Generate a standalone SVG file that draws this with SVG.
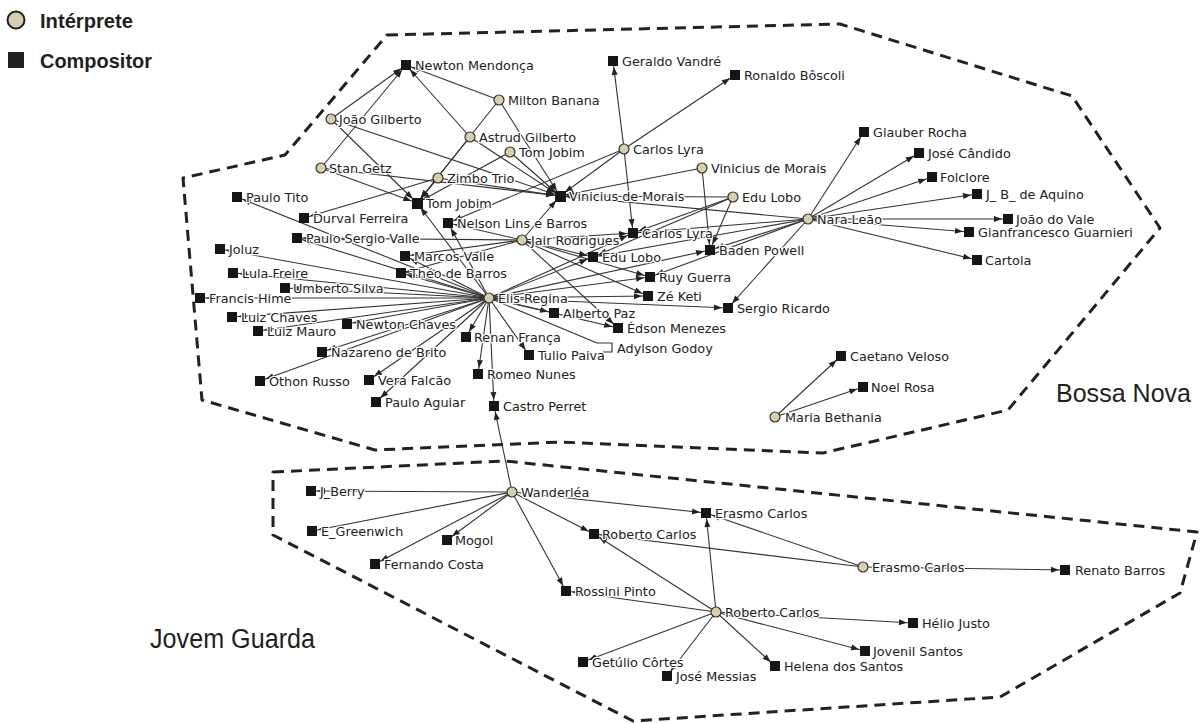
<svg xmlns="http://www.w3.org/2000/svg" width="1200" height="723" viewBox="0 0 1200 723">
  <defs>
    <style>
      .bg { fill: #ffffff; }
      .region { fill: none; stroke: #222; stroke-width: 3; stroke-dasharray: 11 7; stroke-linejoin: round; }
      .big { font-family: "Liberation Sans Narrow", "Liberation Sans", sans-serif; fill: #231f20; }
      .key { font-weight: bold; }
      #edges line { stroke: #333; stroke-width: 1.1; }
      #edges line.a { marker-end: url(#arr); }
      .ip circle { fill: #d6cfa9; stroke: #333; stroke-width: 1.2; }
      .cp rect { fill: #161616; }
      .l { font-family: "DejaVu Sans", sans-serif; font-size: 12.8px; fill: #222;
           paint-order: stroke; stroke: #fff; stroke-width: 2.5px; stroke-linejoin: round; }
    </style>
    <marker id="arr" markerUnits="userSpaceOnUse" markerWidth="10" markerHeight="8" viewBox="0 0 10 8"
            refX="14" refY="3" orient="auto" overflow="visible">
      <path d="M0,0 L8,3 L0,6 z" fill="#222"/>
    </marker>
  </defs>

  <rect class="bg" x="0" y="0" width="1200" height="723"/>

  <!-- legend -->
  <g id="legend">
    <circle cx="16" cy="20" r="8.5" fill="#d6cfa9" stroke="#231f20" stroke-width="2"/>
    <text class="big key" x="40" y="28" font-size="20" textLength="93" lengthAdjust="spacingAndGlyphs">Intérprete</text>
    <rect x="8" y="52" width="16" height="16" fill="#231f20"/>
    <text class="big key" x="40" y="68" font-size="20" textLength="112" lengthAdjust="spacingAndGlyphs">Compositor</text>
  </g>

  <!-- movement regions -->
  <g id="regions">
    <path class="region" d="M387,35 L840,24 L1072,96 L1160,228 L1008,410 L823,453 L560,442 L375,450 L202,400 L183,178 L285,155 Z"/>
    <text class="big" x="1056" y="402" font-size="26" textLength="135" lengthAdjust="spacingAndGlyphs">Bossa Nova</text>
    <path class="region" d="M273,472 L505,461 L1197,532 L1180,593 L1000,697 L633,721 L273,535 Z"/>
    <text class="big" x="150" y="648" font-size="27" textLength="165" lengthAdjust="spacingAndGlyphs">Jovem Guarda</text>
  </g>

  <!-- connectors: performer -> composer -->
  <g id="edges">
    <!-- João Gilberto -->
    <line class="a" x1="331" y1="119" x2="406" y2="65"/>
    <line class="a" x1="331" y1="119" x2="417" y2="203"/>
    <line class="a" x1="331" y1="119" x2="560" y2="196"/>
    <!-- Stan Getz -->
    <line class="a" x1="321" y1="168" x2="406" y2="65"/>
    <line class="a" x1="321" y1="168" x2="417" y2="203"/>
    <line class="a" x1="321" y1="168" x2="560" y2="196"/>
    <!-- Milton Banana -->
    <line class="a" x1="499" y1="100" x2="406" y2="65"/>
    <line class="a" x1="499" y1="100" x2="417" y2="203"/>
    <line class="a" x1="499" y1="100" x2="560" y2="196"/>
    <!-- Astrud Gilberto -->
    <line class="a" x1="470" y1="137" x2="406" y2="65"/>
    <line class="a" x1="470" y1="137" x2="417" y2="203"/>
    <line class="a" x1="470" y1="137" x2="560" y2="196"/>
    <!-- Tom Jobim -->
    <line class="a" x1="510" y1="152" x2="560" y2="196"/>
    <line class="a" x1="510" y1="152" x2="417" y2="203"/>
    <!-- Zimbo Trio -->
    <line class="a" x1="438" y1="178" x2="417" y2="203"/>
    <line class="a" x1="438" y1="178" x2="560" y2="196"/>
    <line class="a" x1="438" y1="178" x2="304" y2="218"/>
    <!-- Carlos Lyra -->
    <line class="a" x1="624" y1="149" x2="613" y2="61"/>
    <line class="a" x1="624" y1="149" x2="735" y2="75"/>
    <line class="a" x1="624" y1="149" x2="560" y2="196"/>
    <line class="a" x1="624" y1="149" x2="448" y2="223"/>
    <line class="a" x1="624" y1="149" x2="633" y2="233"/>
    <!-- Vinicius de Morais -->
    <line class="a" x1="702" y1="168" x2="560" y2="196"/>
    <line class="a" x1="702" y1="168" x2="710" y2="250"/>
    <!-- Edu Lobo -->
    <line class="a" x1="733" y1="197" x2="560" y2="196"/>
    <line class="a" x1="733" y1="197" x2="633" y2="233"/>
    <line class="a" x1="733" y1="197" x2="593" y2="257"/>
    <line class="a" x1="733" y1="197" x2="710" y2="250"/>
    <!-- Nara Leão -->
    <line class="a" x1="808" y1="219" x2="864" y2="132"/>
    <line class="a" x1="808" y1="219" x2="919" y2="153"/>
    <line class="a" x1="808" y1="219" x2="932" y2="177"/>
    <line class="a" x1="808" y1="219" x2="977" y2="194"/>
    <line class="a" x1="808" y1="219" x2="1008" y2="219"/>
    <line class="a" x1="808" y1="219" x2="969" y2="232"/>
    <line class="a" x1="808" y1="219" x2="977" y2="260"/>
    <line class="a" x1="808" y1="219" x2="560" y2="196"/>
    <line class="a" x1="808" y1="219" x2="633" y2="233"/>
    <line class="a" x1="808" y1="219" x2="593" y2="257"/>
    <line class="a" x1="808" y1="219" x2="710" y2="250"/>
    <line class="a" x1="808" y1="219" x2="650" y2="277"/>
    <line class="a" x1="808" y1="219" x2="728" y2="308"/>
    <!-- Maria Bethania -->
    <line class="a" x1="775" y1="417" x2="841" y2="356"/>
    <line class="a" x1="775" y1="417" x2="863" y2="387"/>
    <!-- Elis Regina -->
    <line class="a" x1="489" y1="298" x2="237" y2="197"/>
    <line class="a" x1="489" y1="298" x2="220" y2="249"/>
    <line class="a" x1="489" y1="298" x2="233" y2="273"/>
    <line class="a" x1="489" y1="298" x2="285" y2="288"/>
    <line class="a" x1="489" y1="298" x2="200" y2="298"/>
    <line class="a" x1="489" y1="298" x2="232" y2="317"/>
    <line class="a" x1="489" y1="298" x2="258" y2="331"/>
    <line class="a" x1="489" y1="298" x2="347" y2="324"/>
    <line class="a" x1="489" y1="298" x2="322" y2="352"/>
    <line class="a" x1="489" y1="298" x2="260" y2="381"/>
    <line class="a" x1="489" y1="298" x2="369" y2="380"/>
    <line class="a" x1="489" y1="298" x2="376" y2="402"/>
    <line class="a" x1="489" y1="298" x2="466" y2="337"/>
    <line class="a" x1="489" y1="298" x2="478" y2="374"/>
    <line class="a" x1="489" y1="298" x2="494" y2="406"/>
    <line class="a" x1="489" y1="298" x2="529" y2="355"/>
    <line class="a" x1="489" y1="298" x2="554" y2="313"/>
    <line class="a" x1="489" y1="298" x2="618" y2="328"/>
    <line class="a" x1="489" y1="298" x2="648" y2="296"/>
    <line class="a" x1="489" y1="298" x2="728" y2="308"/>
    <line class="a" x1="489" y1="298" x2="650" y2="277"/>
    <line class="a" x1="489" y1="298" x2="593" y2="257"/>
    <line class="a" x1="489" y1="298" x2="633" y2="233"/>
    <line class="a" x1="489" y1="298" x2="710" y2="250"/>
    <line class="a" x1="489" y1="298" x2="417" y2="203"/>
    <line class="a" x1="489" y1="298" x2="448" y2="223"/>
    <line class="a" x1="489" y1="298" x2="405" y2="256"/>
    <line class="a" x1="489" y1="298" x2="401" y2="273"/>
    <line class="a" x1="489" y1="298" x2="297" y2="238"/>
    <line x1="489" y1="298" x2="597" y2="343"/>
    <!-- Jair Rodrigues -->
    <line class="a" x1="522" y1="240" x2="297" y2="238"/>
    <line class="a" x1="522" y1="240" x2="448" y2="223"/>
    <line class="a" x1="522" y1="240" x2="560" y2="196"/>
    <line class="a" x1="522" y1="240" x2="593" y2="257"/>
    <line class="a" x1="522" y1="240" x2="633" y2="233"/>
    <line class="a" x1="522" y1="240" x2="650" y2="277"/>
    <line class="a" x1="522" y1="240" x2="648" y2="296"/>
    <line class="a" x1="522" y1="240" x2="618" y2="328"/>
    <line class="a" x1="522" y1="240" x2="405" y2="256"/>
    <line class="a" x1="522" y1="240" x2="401" y2="273"/>
    <!-- Wanderléa -->
    <line class="a" x1="512" y1="492" x2="494" y2="406"/>
    <line class="a" x1="512" y1="492" x2="311" y2="491"/>
    <line class="a" x1="512" y1="492" x2="312" y2="531"/>
    <line class="a" x1="512" y1="492" x2="375" y2="564"/>
    <line class="a" x1="512" y1="492" x2="447" y2="540"/>
    <line class="a" x1="512" y1="492" x2="594" y2="534"/>
    <line class="a" x1="512" y1="492" x2="566" y2="591"/>
    <line class="a" x1="512" y1="492" x2="706" y2="513"/>
    <!-- Erasmo Carlos -->
    <line class="a" x1="863" y1="567" x2="706" y2="513"/>
    <line class="a" x1="863" y1="567" x2="594" y2="534"/>
    <line class="a" x1="863" y1="567" x2="1065" y2="570"/>
    <!-- Roberto Carlos -->
    <line class="a" x1="716" y1="612" x2="706" y2="513"/>
    <line class="a" x1="716" y1="612" x2="594" y2="534"/>
    <line class="a" x1="716" y1="612" x2="566" y2="591"/>
    <line class="a" x1="716" y1="612" x2="913" y2="623"/>
    <line class="a" x1="716" y1="612" x2="865" y2="651"/>
    <line class="a" x1="716" y1="612" x2="775" y2="666"/>
    <line class="a" x1="716" y1="612" x2="667" y2="676"/>
    <line class="a" x1="716" y1="612" x2="583" y2="662"/>
  </g>

  <!-- composers -->
  <g id="n-nmendonca" class="cp"><rect x="401" y="60" width="10" height="10"/><text class="l" x="415" y="70">Newton Mendonça</text></g>
  <g id="n-gvandre" class="cp"><rect x="608" y="56" width="10" height="10"/><text class="l" x="622" y="66">Geraldo Vandré</text></g>
  <g id="n-rboscoli" class="cp"><rect x="730" y="70" width="10" height="10"/><text class="l" x="744" y="80">Ronaldo Bôscoli</text></g>
  <g id="n-vmorais-c" class="cp"><rect x="555" y="191" width="11" height="11"/><text class="l" x="569" y="201">Vinicius de Morais</text></g>
  <g id="n-tjobim-c" class="cp"><rect x="412" y="198" width="11" height="11"/><text class="l" x="426" y="208">Tom Jobim</text></g>
  <g id="n-ptito" class="cp"><rect x="232" y="192" width="10" height="10"/><text class="l" x="246" y="202">Paulo Tito</text></g>
  <g id="n-dferreira" class="cp"><rect x="299" y="213" width="10" height="10"/><text class="l" x="313" y="223">Durval Ferreira</text></g>
  <g id="n-psvalle" class="cp"><rect x="292" y="233" width="10" height="10"/><text class="l" x="306" y="243">Paulo Sergio Valle</text></g>
  <g id="n-joluz" class="cp"><rect x="215" y="244" width="10" height="10"/><text class="l" x="229" y="254">Joluz</text></g>
  <g id="n-lfreire" class="cp"><rect x="228" y="268" width="10" height="10"/><text class="l" x="242" y="278">Lula Freire</text></g>
  <g id="n-usilva" class="cp"><rect x="280" y="283" width="10" height="10"/><text class="l" x="293" y="293">Umberto Silva</text></g>
  <g id="n-fhime" class="cp"><rect x="195" y="293" width="10" height="10"/><text class="l" x="209" y="303">Francis Hime</text></g>
  <g id="n-lchaves" class="cp"><rect x="227" y="312" width="10" height="10"/><text class="l" x="241" y="322">Luiz Chaves</text></g>
  <g id="n-lmauro" class="cp"><rect x="253" y="326" width="10" height="10"/><text class="l" x="267" y="336">Luiz Mauro</text></g>
  <g id="n-nchaves" class="cp"><rect x="342" y="319" width="10" height="10"/><text class="l" x="356" y="329">Newton Chaves</text></g>
  <g id="n-nbrito" class="cp"><rect x="317" y="347" width="10" height="10"/><text class="l" x="331" y="357">Nazareno de Brito</text></g>
  <g id="n-mvalle" class="cp"><rect x="400" y="251" width="10" height="10"/><text class="l" x="414" y="261">Marcos Valle</text></g>
  <g id="n-tbarros" class="cp"><rect x="396" y="268" width="10" height="10"/><text class="l" x="410" y="278">Théo de Barros</text></g>
  <g id="n-nlins" class="cp"><rect x="443" y="218" width="10" height="10"/><text class="l" x="457" y="228">Nelson Lins e Barros</text></g>
  <g id="n-rfranca" class="cp"><rect x="461" y="332" width="10" height="10"/><text class="l" x="474" y="342">Renan França</text></g>
  <g id="n-clyra-c" class="cp"><rect x="628" y="228" width="10" height="10"/><text class="l" x="642" y="238">Carlos Lyra</text></g>
  <g id="n-elobo-c" class="cp"><rect x="588" y="252" width="10" height="10"/><text class="l" x="602" y="262">Edu Lobo</text></g>
  <g id="n-bpowell" class="cp"><rect x="705" y="245" width="10" height="10"/><text class="l" x="719" y="255">Baden Powell</text></g>
  <g id="n-rguerra" class="cp"><rect x="645" y="272" width="10" height="10"/><text class="l" x="659" y="282">Ruy Guerra</text></g>
  <g id="n-zketi" class="cp"><rect x="643" y="291" width="10" height="10"/><text class="l" x="657" y="301">Zé Keti</text></g>
  <g id="n-sricardo" class="cp"><rect x="723" y="303" width="10" height="10"/><text class="l" x="737" y="313">Sergio Ricardo</text></g>
  <g id="n-apaz" class="cp"><rect x="549" y="308" width="10" height="10"/><text class="l" x="563" y="318">Alberto Paz</text></g>
  <g id="n-emenezes" class="cp"><rect x="613" y="323" width="10" height="10"/><text class="l" x="627" y="333">Édson Menezes</text></g>
  <g id="n-agodoy" class="cp"><path d="M597,343 H612 V352 H603" fill="none" stroke="#333" stroke-width="1.2"/><text class="l" x="617" y="353">Adylson Godoy</text></g>
  <g id="n-tpaiva" class="cp"><rect x="524" y="350" width="10" height="10"/><text class="l" x="538" y="360">Tulio Paiva</text></g>
  <g id="n-rnunes" class="cp"><rect x="473" y="369" width="10" height="10"/><text class="l" x="487" y="379">Romeo Nunes</text></g>
  <g id="n-vfalcao" class="cp"><rect x="364" y="375" width="10" height="10"/><text class="l" x="378" y="385">Vera Falcão</text></g>
  <g id="n-paguiar" class="cp"><rect x="371" y="397" width="10" height="10"/><text class="l" x="385" y="407">Paulo Aguiar</text></g>
  <g id="n-orusso" class="cp"><rect x="255" y="376" width="10" height="10"/><text class="l" x="269" y="386">Othon Russo</text></g>
  <g id="n-cperret" class="cp"><rect x="489" y="401" width="10" height="10"/><text class="l" x="503" y="411">Castro Perret</text></g>
  <g id="n-grocha" class="cp"><rect x="859" y="127" width="10" height="10"/><text class="l" x="873" y="137">Glauber Rocha</text></g>
  <g id="n-jcandido" class="cp"><rect x="914" y="148" width="10" height="10"/><text class="l" x="928" y="158">José Cândido</text></g>
  <g id="n-folclore" class="cp"><rect x="927" y="172" width="10" height="10"/><text class="l" x="940" y="182">Folclore</text></g>
  <g id="n-jbaquino" class="cp"><rect x="972" y="189" width="10" height="10"/><text class="l" x="986" y="199">J_ B_ de Aquino</text></g>
  <g id="n-jvale" class="cp"><rect x="1003" y="214" width="10" height="10"/><text class="l" x="1016" y="224">João do Vale</text></g>
  <g id="n-gguarnieri" class="cp"><rect x="964" y="227" width="10" height="10"/><text class="l" x="978" y="237">Gianfrancesco Guarnieri</text></g>
  <g id="n-cartola" class="cp"><rect x="972" y="255" width="10" height="10"/><text class="l" x="985" y="265">Cartola</text></g>
  <g id="n-cveloso" class="cp"><rect x="836" y="351" width="10" height="10"/><text class="l" x="850" y="361">Caetano Veloso</text></g>
  <g id="n-nrosa" class="cp"><rect x="858" y="382" width="10" height="10"/><text class="l" x="871" y="392">Noel Rosa</text></g>
  <g id="n-jberry" class="cp"><rect x="306" y="486" width="10" height="10"/><text class="l" x="320" y="496">J_Berry</text></g>
  <g id="n-egreenwich" class="cp"><rect x="307" y="526" width="10" height="10"/><text class="l" x="321" y="536">E_Greenwich</text></g>
  <g id="n-mogol" class="cp"><rect x="442" y="535" width="10" height="10"/><text class="l" x="455" y="545">Mogol</text></g>
  <g id="n-fcosta" class="cp"><rect x="370" y="559" width="10" height="10"/><text class="l" x="384" y="569">Fernando Costa</text></g>
  <g id="n-rcarlos-c" class="cp"><rect x="589" y="529" width="10" height="10"/><text class="l" x="602" y="539">Roberto Carlos</text></g>
  <g id="n-rpinto" class="cp"><rect x="561" y="586" width="10" height="10"/><text class="l" x="575" y="596">Rossini Pinto</text></g>
  <g id="n-ecarlos-c" class="cp"><rect x="701" y="508" width="10" height="10"/><text class="l" x="715" y="518">Erasmo Carlos</text></g>
  <g id="n-rbarros" class="cp"><rect x="1060" y="565" width="10" height="10"/><text class="l" x="1075" y="575">Renato Barros</text></g>
  <g id="n-hjusto" class="cp"><rect x="908" y="618" width="10" height="10"/><text class="l" x="922" y="628">Hélio Justo</text></g>
  <g id="n-jsantos" class="cp"><rect x="860" y="646" width="10" height="10"/><text class="l" x="873" y="656">Jovenil Santos</text></g>
  <g id="n-hsantos" class="cp"><rect x="770" y="661" width="10" height="10"/><text class="l" x="784" y="671">Helena dos Santos</text></g>
  <g id="n-jmessias" class="cp"><rect x="662" y="671" width="10" height="10"/><text class="l" x="676" y="681">José Messias</text></g>
  <g id="n-gcortes" class="cp"><rect x="578" y="657" width="10" height="10"/><text class="l" x="592" y="667">Getúlio Côrtes</text></g>

  <!-- performers -->
  <g id="n-jgilberto" class="ip"><circle cx="331" cy="119" r="5"/><text class="l" x="339" y="124">João Gilberto</text></g>
  <g id="n-sgetz" class="ip"><circle cx="321" cy="168" r="5"/><text class="l" x="329" y="173">Stan Getz</text></g>
  <g id="n-mbanana" class="ip"><circle cx="499" cy="100" r="5"/><text class="l" x="508" y="105">Milton Banana</text></g>
  <g id="n-agilberto" class="ip"><circle cx="470" cy="137" r="5"/><text class="l" x="479" y="142">Astrud Gilberto</text></g>
  <g id="n-tjobim-i" class="ip"><circle cx="510" cy="152" r="5"/><text class="l" x="519" y="157">Tom Jobim</text></g>
  <g id="n-clyra-i" class="ip"><circle cx="624" cy="149" r="5"/><text class="l" x="633" y="154">Carlos Lyra</text></g>
  <g id="n-vmorais-i" class="ip"><circle cx="702" cy="168" r="5"/><text class="l" x="711" y="173">Vinicius de Morais</text></g>
  <g id="n-elobo-i" class="ip"><circle cx="733" cy="197" r="5"/><text class="l" x="742" y="202">Edu Lobo</text></g>
  <g id="n-zimbo" class="ip"><circle cx="438" cy="178" r="5"/><text class="l" x="447" y="183">Zimbo Trio</text></g>
  <g id="n-jair" class="ip"><circle cx="522" cy="240" r="5"/><text class="l" x="531" y="245">Jair Rodrigues</text></g>
  <g id="n-elis" class="ip"><circle cx="489" cy="298" r="5"/><text class="l" x="498" y="303">Elis Regina</text></g>
  <g id="n-nara" class="ip"><circle cx="808" cy="219" r="5"/><text class="l" x="817" y="224">Nara Leão</text></g>
  <g id="n-mbethania" class="ip"><circle cx="775" cy="417" r="5"/><text class="l" x="785" y="422">Maria Bethania</text></g>
  <g id="n-wanderlea" class="ip"><circle cx="512" cy="492" r="5"/><text class="l" x="521" y="497">Wanderléa</text></g>
  <g id="n-ecarlos-i" class="ip"><circle cx="863" cy="567" r="5"/><text class="l" x="872" y="572">Erasmo Carlos</text></g>
  <g id="n-rcarlos-i" class="ip"><circle cx="716" cy="612" r="5"/><text class="l" x="725" y="617">Roberto Carlos</text></g>
</svg>
